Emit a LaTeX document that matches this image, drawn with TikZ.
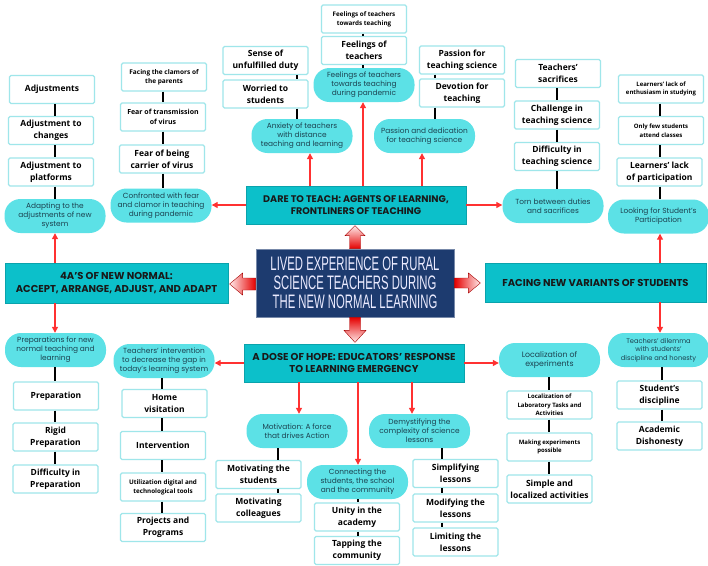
\documentclass[tikz,border=0pt]{standalone}
\usepackage{fontspec}
\setmainfont{Open Sans}
\newfontfamily\pillfont{Poppins}
\newfontfamily\hdrfont{Poppins}
\newfontfamily\ttlfont[FakeStretch=0.58]{Liberation Sans}
\usetikzlibrary{arrows.meta,calc}
\definecolor{pillc}{HTML}{5CE1E6}
\definecolor{hdrc}{HTML}{0CC0CA}
\definecolor{boxline}{HTML}{9FE6EA}
\definecolor{navy}{HTML}{1D3B6F}
\definecolor{arrred}{HTML}{FF3131}
\definecolor{pilltext}{HTML}{1C4250}
\tikzset{
  box/.style={draw=boxline, line width=1.3pt, fill=white, rounded corners=1.5pt,
    minimum width=85pt, minimum height=28pt, align=center, inner sep=1pt,
    font=\bfseries\fontsize{8.5}{12}\selectfont},
  sbox/.style={box, font=\bfseries\fontsize{6.5}{9}\selectfont},
  tbox/.style={box, font=\bfseries\fontsize{6}{8.5}\selectfont},
  pill/.style={fill=pillc, rounded corners=16pt, minimum width=101pt, minimum height=34pt,
    align=center, inner sep=1pt, text=pilltext, font=\pillfont\fontsize{7.4}{9}\selectfont},
  spill/.style={pill, font=\pillfont\fontsize{6.7}{8.5}\selectfont},
  hdr/.style={fill=hdrc, draw=hdrc!85!black, line width=0.4pt, align=center,
    inner sep=1pt, text=black!90, font=\hdrfont\bfseries\fontsize{10}{12.5}\selectfont},
  link/.style={line width=2.5pt, black},
  rarr/.style={arrred, line width=1.2pt, -{Triangle[length=6pt,width=6pt]}},
  blk/.style={draw=red!65!black, line width=0.4pt},
}
\begin{document}
\begin{tikzpicture}[x=1pt,y=-1pt]
\useasboundingbox (0,0) rectangle (708,565);
\fill[white] (0,0) rectangle (708,565);

% ---------- x positions for connectors ----------
\coordinate (c55) at (55,0);
\coordinate (c163) at (163,0);
\coordinate (c297) at (297,0);
\coordinate (c310) at (310,0);
\coordinate (c363) at (363,0);
\coordinate (c422) at (422,0);
\coordinate (c435) at (435,0);
\coordinate (c557) at (557,0);
\coordinate (c660) at (660,0);
\coordinate (c162) at (162,0);
\coordinate (c278) at (278,0);
\coordinate (c299) at (299,0);
\coordinate (c358) at (358,0);
\coordinate (c412) at (412,0);
\coordinate (c442) at (442,0);
\coordinate (c549) at (549,0);
\coordinate (c662) at (662,0);

% ---------- central and header boxes ----------
\node[fill=navy, draw=navy!60!white, line width=0.8pt, minimum width=198pt, minimum height=68pt,
  align=center, inner sep=1pt, text=white!92!blue, font=\ttlfont\fontsize{19.5}{19}\selectfont]
  (ctr) at (355,283) {LIVED EXPERIENCE OF RURAL\\SCIENCE TEACHERS DURING\\THE NEW NORMAL LEARNING};
\node[hdr, minimum width=220pt, minimum height=38pt, font=\hdrfont\bfseries\fontsize{9.6}{12.5}\selectfont] (dare) at (356,205)
  {DARE TO TEACH: AGENTS OF LEARNING,\\FRONTLINERS OF TEACHING};
\node[hdr, minimum width=223pt, minimum height=40pt] (fourA) at (116.5,283)
  {4A’S OF NEW NORMAL:\\ACCEPT, ARRANGE, ADJUST, AND ADAPT};
\node[hdr, minimum width=221pt, minimum height=39pt] (facing) at (595.5,282.5)
  {FACING NEW VARIANTS OF STUDENTS};
\node[hdr, minimum width=220pt, minimum height=38pt] (dose) at (354,363)
  {A DOSE OF HOPE: EDUCATORS’ RESPONSE\\TO LEARNING EMERGENCY};

% ---------- block arrows from the centre ----------
\shade[blk, top color=red!8, middle color=red, bottom color=red!90!black]
  ($(ctr.north)+(-5.5,0)$) -- ++(0,-13) -- ++(-4.5,0) -- ++(10,-10) -- ++(10,10) -- ++(-4.5,0) -- ++(0,13) -- cycle;
\shade[blk, bottom color=red!8, middle color=red, top color=red!90!black]
  ($(ctr.south)+(-5.5,0)$) -- ++(0,13) -- ++(-5.5,0) -- ++(11,12) -- ++(11,-12) -- ++(-5.5,0) -- ++(0,-13) -- cycle;
\shade[blk, left color=red!8, middle color=red, right color=red!90!black]
  ($(ctr.west)+(0,-5)$) -- ++(-13,0) -- ++(0,-5) -- ++(-13,11) -- ++(13,11) -- ++(0,-5) -- ++(13,0) -- cycle;
\shade[blk, right color=red!8, middle color=red, left color=red!90!black]
  ($(ctr.east)+(0,-5)$) -- ++(14,0) -- ++(0,-5) -- ++(12,10) -- ++(-12,10) -- ++(0,-5) -- ++(-14,0) -- cycle;

% ---------- top: adapting column ----------
\node[box] (adj) at (52,89.5) {Adjustments};
\node[box] (adjch) at (51,130.5) {Adjustment to\\changes};
\node[box] (adjpl) at (51,172) {Adjustment to\\platforms};
\node[pill] (adapt) at (55,216) {Adapting to the\\adjustments of new\\system};
\draw[link] (adj.south -| c55) -- (adjch.north -| c55);
\draw[link] (adjch.south -| c55) -- (adjpl.north -| c55);
\draw[link] (adjpl.south -| c55) -- (adapt.north -| c55);

% ---------- top: confronted column ----------
\node[sbox] (clam) at (164,77) {Facing the clamors of\\the parents};
\node[box, font=\bfseries\fontsize{7}{9.5}\selectfont] (trans) at (163,117) {Fear of transmission\\of virus};
\node[box] (carr) at (162,159) {Fear of being\\carrier of virus};
\node[pill] (confr) at (161,205.5) {Confronted with fear\\and clamor in teaching\\during pandemic};
\draw[link] (clam.south -| c163) -- (trans.north -| c163);
\draw[link] (trans.south -| c163) -- (carr.north -| c163);
\draw[link] (carr.south -| c163) -- (confr.north -| c163);

% ---------- top: anxiety column ----------
\node[box] (sense) at (265.5,60.5) {Sense of\\unfulfilled duty};
\node[box] (worr) at (265.5,94) {Worried to\\students};
\node[pill] (anx) at (302,136) {Anxiety of teachers\\with distance\\teaching and learning};
\draw[link] (sense.south -| c297) -- (worr.north -| c297);
\draw[link] (worr.south -| c297) -- (anx.north -| c297);

% ---------- top: feelings column ----------
\node[sbox, font=\bfseries\fontsize{6.3}{9}\selectfont] (feelsm) at (364,19) {Feelings of teachers\\towards teaching};
\node[box] (feel) at (364,50.5) {Feelings of\\teachers};
\node[pill] (feelp) at (364,85) {Feelings of teachers\\towards teaching\\during pandemic};
\draw[link] (feelsm.south -| c363) -- (feel.north -| c363);
\draw[link] (feel.south -| c363) -- (feelp.north -| c363);

% ---------- top: passion column ----------
\node[box] (pass) at (462,60) {Passion for\\teaching science};
\node[box] (devo) at (462,93) {Devotion for\\teaching};
\node[pill] (passp) at (424.5,136) {Passion and dedication\\for teaching science};
\draw[link] (pass.south -| c435) -- (devo.north -| c435);
\draw[link] (devo.south -| c435) -- (passp.north -| c435);

% ---------- top: torn column ----------
\node[box] (sacr) at (558,73.5) {Teachers’\\sacrifices};
\node[box] (chall) at (557,115) {Challenge in\\teaching science};
\node[box] (diff) at (557,156.5) {Difficulty in\\teaching science};
\node[pill] (torn) at (553,206) {Torn between duties\\and sacrifices};
\draw[link] (sacr.south -| c557) -- (chall.north -| c557);
\draw[link] (chall.south -| c557) -- (diff.north -| c557);
\draw[link] (diff.south -| c557) -- (torn.north -| c557);

% ---------- top: looking column ----------
\node[tbox] (enth) at (661,89) {Learners’ lack of\\enthusiasm in studying};
\node[tbox] (few) at (661,130.5) {Only few students\\attend classes};
\node[box] (lackp) at (659.5,172) {Learners’ lack\\of participation};
\node[pill] (look) at (658.5,216.5) {Looking for Student’s\\Participation};
\draw[link] (enth.south -| c660) -- (few.north -| c660);
\draw[link] (few.south -| c660) -- (lackp.north -| c660);
\draw[link] (lackp.south -| c660) -- (look.north -| c660);

% ---------- bottom: preparations column ----------
\node[pill] (prepp) at (55.5,350) {Preparations for new\\normal teaching and\\learning};
\node[box] (prep) at (56,396) {Preparation};
\node[box] (rigid) at (55.5,437) {Rigid\\Preparation};
\node[box] (dprep) at (55.5,479) {Difficulty in\\Preparation};
\draw[link] (prepp.south -| c55) -- (prep.north -| c55);
\draw[link] (prep.south -| c55) -- (rigid.north -| c55);
\draw[link] (rigid.south -| c55) -- (dprep.north -| c55);

% ---------- bottom: intervention column ----------
\node[pill] (interv) at (164,361) {Teachers’ intervention\\to decrease the gap in\\today’s learning system};
\node[box] (home) at (164.5,403.5) {Home\\visitation};
\node[box] (intv) at (163,445.5) {Intervention};
\node[sbox, font=\bfseries\fontsize{6.3}{9}\selectfont] (util) at (163,487) {Utilization digital and\\technological tools};
\node[box] (proj) at (163,527.5) {Projects and\\Programs};
\draw[link] (interv.south -| c162) -- (home.north -| c162);
\draw[link] (home.south -| c162) -- (intv.north -| c162);
\draw[link] (intv.south -| c162) -- (util.north -| c162);
\draw[link] (util.south -| c162) -- (proj.north -| c162);

% ---------- bottom: motivation column ----------
\node[pill] (motp) at (297,431) {Motivation: A force\\that drives Action};
\node[box] (motst) at (258.5,474.5) {Motivating the\\students};
\node[box] (motcol) at (258.5,508) {Motivating\\colleagues};
\draw[link] (motp.south -| c278) -- (motst.north -| c278);
\draw[link] (motst.south -| c278) -- (motcol.north -| c278);

% ---------- bottom: connecting column ----------
\node[pill] (conn) at (357.5,482) {Connecting the\\students, the school\\and the community};
\node[box] (unity) at (357,517) {Unity in the\\academy};
\node[box] (tap) at (357,550.5) {Tapping the\\community};
\draw[link] (conn.south -| c358) -- (unity.north -| c358);
\draw[link] (unity.south -| c358) -- (tap.north -| c358);

% ---------- bottom: demystifying column ----------
\node[pill] (demy) at (419.5,431) {Demystifying the\\complexity of science\\lessons};
\node[box] (simp) at (455.5,473.5) {Simplifying\\lessons};
\node[box] (modi) at (455.5,508) {Modifying the\\lessons};
\node[box] (limi) at (455.5,542) {Limiting the\\lessons};
\draw[link] (demy.south -| c442) -- (simp.north -| c442);
\draw[link] (simp.south -| c442) -- (modi.north -| c442);
\draw[link] (modi.south -| c442) -- (limi.north -| c442);

% ---------- bottom: localization column ----------
\node[pill, font=\pillfont\fontsize{7.8}{9.5}\selectfont] (loc) at (549.5,360) {Localization of\\experiments};
\node[tbox] (loclab) at (549.5,405) {Localization of\\Laboratory Tasks and\\Activities};
\node[tbox] (making) at (549.5,447) {Making experiments\\possible};
\node[box] (simple) at (549.5,489) {Simple and\\localized activities};
\draw[link] (loc.south -| c549) -- (loclab.north -| c549);
\draw[link] (loclab.south -| c549) -- (making.north -| c549);
\draw[link] (making.south -| c549) -- (simple.north -| c549);

% ---------- bottom: dilemma column ----------
\node[spill] (dilp) at (658.5,350) {Teachers’ dilemma\\with students’\\discipline and honesty};
\node[box] (disc) at (659.5,395) {Student’s\\discipline};
\node[box] (acad) at (659.5,436) {Academic\\Dishonesty};
\draw[link] (dilp.south -| c662) -- (disc.north -| c662);
\draw[link] (disc.south -| c662) -- (acad.north -| c662);

% ---------- red arrows ----------
\draw[rarr] (dare.north -| c310) -- (anx.south -| c310);
\draw[rarr] (dare.north -| c363) -- (feelp.south -| c363);
\draw[rarr] (dare.north -| c422) -- (passp.south -| c422);
\draw[rarr] (dare.west) -- (dare.west -| confr.east);
\draw[rarr] (dare.east) -- (dare.east -| torn.west);
\draw[rarr] (fourA.north -| c55) -- (adapt.south -| c55);
\draw[rarr] (fourA.south -| c55) -- (prepp.north -| c55);
\draw[rarr] (facing.north -| c660) -- (look.south -| c660);
\draw[rarr] (facing.south -| c660) -- (dilp.north -| c660);
\draw[rarr] (dose.west) -- (dose.west -| interv.east);
\draw[rarr] (dose.east) -- (dose.east -| loc.west);
\draw[rarr] (dose.south -| c299) -- (motp.north -| c299);
\draw[rarr] (dose.south -| c358) -- (conn.north -| c358);
\draw[rarr] (dose.south -| c412) -- (demy.north -| c412);
\end{tikzpicture}
\end{document}
